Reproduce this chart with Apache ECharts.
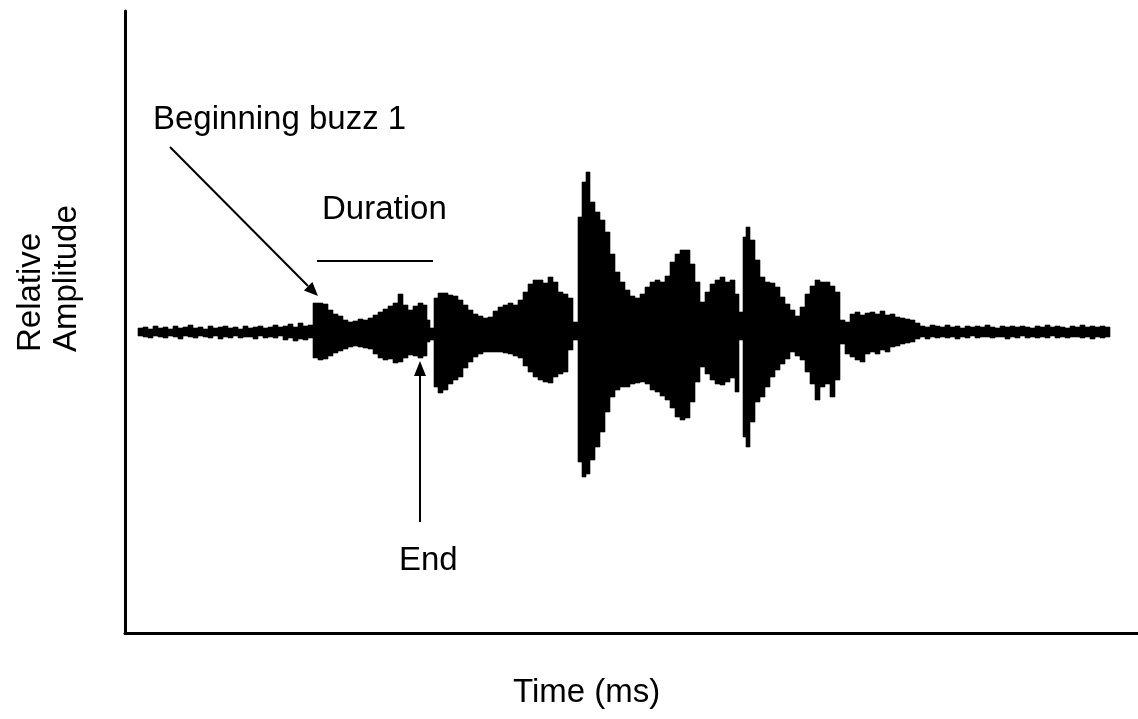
<!DOCTYPE html>
<html>
<head>
<meta charset="utf-8">
<script src="https://cdn.jsdelivr.net/npm/echarts@6/dist/echarts.min.js"></script>
<style>html,body{margin:0;padding:0;background:#fff}#c{width:1138px;height:719px}</style>
</head>
<body>
<div id="c"></div>
<script>
// Sample times (ms, start of each step)
const timeMs = [
  13,18,23,28,33,38,43,48,53,58,63,68,73,78,83,88,93,98,103,108,113,118,123,128,133,138,143,148,153,158,163,168,173,178,183,
  188,193,198,203,208,213,218,223,228,233,238,243,248,253,258,263,268,273,278,283,288,293,298,302,305,
  309,313,318,323,328,333,338,343,348,353,358,363,368,373,378,383,388,393,398,403,408,413,418,423,428,433,438,443,448,
  453,457,461,465,470,475,480,485,490,495,500,505,510,515,520,525,530,535,540,545,550,555,560,565,570,575,580,585,590,595,600,605,610,614,
  618,621,625,630,635,640,645,650,655,660,665,670,675,680,685,690,695,700,705,710,715,720,725,730,735,740,745,750,755,760,765,770,775,780,785,790,
  795,800,805,810,815,820,825,830,835,840,845,850,855,860,865,870,875,880,885,890,895,900,905,910,915,920,925,930,935,940,945,950,955,960,965,970,975,980,
  985
];
// Positive envelope (relative amplitude above baseline)
const upperEnv = [
  4,5,3,6,4,5,3,6,4,5,7,4,5,3,6,4,5,6,4,5,3,6,4,5,6,4,5,7,5,6,8,5,9,6,7,
  29,29,28,22,18,16,12,10,11,13,12,14,17,20,23,26,29,38,27,22,26,29,27,12,4,
  34,39,39,37,36,32,27,22,18,16,14,15,21,25,27,29,27,32,40,48,52,52,49,55,50,40,38,34,10,
  115,150,160,130,120,112,100,78,60,50,42,36,34,38,45,50,52,50,56,70,78,82,82,68,50,30,40,48,52,55,50,52,38,20,
  95,105,92,72,55,50,49,45,35,28,22,16,25,38,46,52,50,50,46,40,12,10,18,20,17,19,20,18,21,17,18,15,14,13,12,9,
  6,5,7,6,5,7,5,6,4,6,5,6,5,7,5,4,6,5,6,5,6,5,4,6,5,7,5,6,5,4,6,5,7,5,6,5,6,5,
  0
];
// Negative envelope (relative amplitude below baseline, as magnitude)
const lowerEnv = [
  4,5,6,4,5,6,4,5,7,4,5,6,4,5,6,4,7,5,6,4,6,5,5,7,4,6,5,6,4,8,6,9,7,8,6,
  26,28,27,24,21,19,17,15,14,15,16,17,22,26,28,27,31,30,26,23,24,26,24,10,8,
  55,61,58,52,48,45,36,30,25,22,20,20,20,20,21,22,24,26,34,40,45,48,50,51,45,42,40,18,8,
  130,145,142,128,115,100,80,65,58,55,55,52,51,50,52,58,60,64,68,76,85,88,86,70,50,35,42,48,52,53,50,46,60,8,
  105,115,90,70,65,55,45,38,32,27,20,24,28,40,52,68,55,52,65,48,12,22,25,28,30,22,20,22,18,20,15,14,12,11,10,7,
  5,7,5,6,5,6,5,7,5,6,4,6,5,5,6,5,5,7,5,6,4,6,5,6,5,6,4,6,5,6,5,5,6,5,7,5,6,5,
  0
];

const xTitle = 'Time (ms)';
const yTitle1 = 'Relative';
const yTitle2 = 'Amplitude';
const noteBegin = 'Beginning buzz 1';
const noteDuration = 'Duration';
const noteEnd = 'End';

const data = timeMs.map((t, i) => [t, upperEnv[i], lowerEnv[i], i]);
const FONT = '"Liberation Sans", Arial, sans-serif';

const chart = echarts.init(document.getElementById('c'), null, {renderer: 'canvas'});
chart.setOption({
  animation: false,
  backgroundColor: '#ffffff',
  grid: {left: 125, right: 0, top: 11, bottom: 86},
  xAxis: {
    type: 'value', min: 0, max: 1013,
    axisLine: {show: true, onZero: false, lineStyle: {color: '#000', width: 3}},
    axisTick: {show: false}, axisLabel: {show: false}, splitLine: {show: false}
  },
  yAxis: {
    type: 'value', min: -301, max: 321,
    axisLine: {show: true, onZero: false, lineStyle: {color: '#000', width: 3}},
    axisTick: {show: false}, axisLabel: {show: false}, splitLine: {show: false}
  },
  series: [{
    type: 'custom',
    data: data,
    encode: {x: 0, y: [1, 2]},
    renderItem: function (params, api) {
      const i = api.value(3);
      if (i >= timeMs.length - 1) return null;
      const p0 = api.coord([api.value(0), api.value(1)]);
      const p1 = api.coord([timeMs[i + 1], -api.value(2)]);
      return {
        type: 'rect',
        shape: {x: p0[0], y: p0[1], width: p1[0] - p0[0], height: p1[1] - p0[1]},
        style: {fill: '#000', stroke: '#000', lineWidth: 0.6}
      };
    }
  }],
  graphic: [
    {type: 'text', x: 153, y: 120, style: {text: noteBegin, font: '33px ' + FONT, fill: '#000', align: 'left', verticalAlign: 'middle'}},
    {type: 'line', shape: {x1: 170, y1: 147, x2: 308, y2: 286}, style: {stroke: '#000', lineWidth: 2}},
    {type: 'polygon', shape: {points: [[318, 296], [303.9, 290.4], [312.4, 281.9]]}, style: {fill: '#000'}},
    {type: 'text', x: 322, y: 210, style: {text: noteDuration, font: '33px ' + FONT, fill: '#000', align: 'left', verticalAlign: 'middle'}},
    {type: 'line', shape: {x1: 317, y1: 261, x2: 433, y2: 261}, style: {stroke: '#000', lineWidth: 2}},
    {type: 'line', shape: {x1: 420, y1: 522, x2: 420, y2: 374}, style: {stroke: '#000', lineWidth: 2}},
    {type: 'polygon', shape: {points: [[420, 361], [414, 376], [426, 376]]}, style: {fill: '#000'}},
    {type: 'text', x: 399, y: 561, style: {text: noteEnd, font: '33px ' + FONT, fill: '#000', align: 'left', verticalAlign: 'middle'}},
    {type: 'text', x: 513, y: 693, style: {text: xTitle, font: '33px ' + FONT, fill: '#000', align: 'left', verticalAlign: 'middle'}},
    {type: 'text', x: 31, y: 352, rotation: Math.PI / 2, style: {text: yTitle1, font: '33px ' + FONT, fill: '#000', align: 'left', verticalAlign: 'middle'}},
    {type: 'text', x: 67, y: 352, rotation: Math.PI / 2, style: {text: yTitle2, font: '33px ' + FONT, fill: '#000', align: 'left', verticalAlign: 'middle'}}
  ]
});
</script>
</body>
</html>
